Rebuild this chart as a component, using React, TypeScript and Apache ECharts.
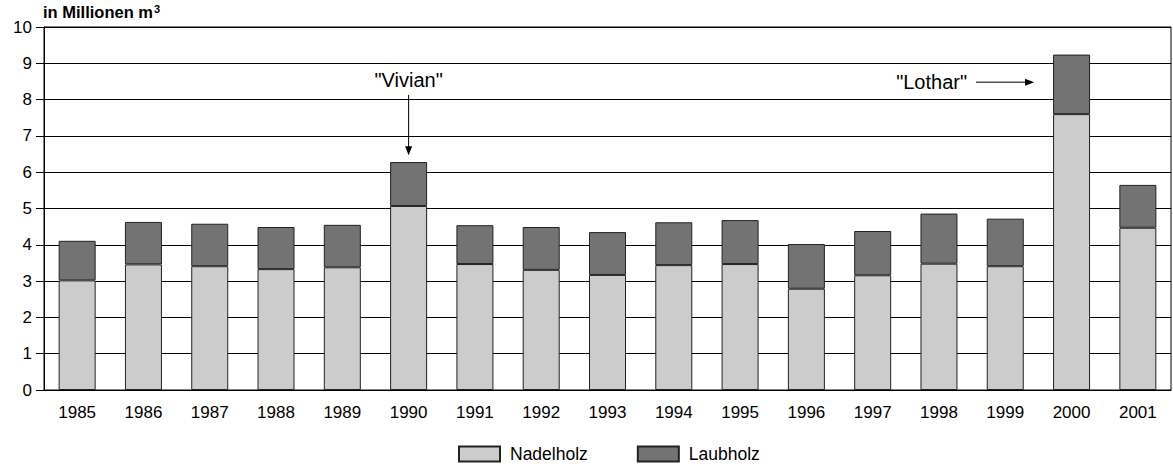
import React, { useEffect, useRef } from "react";
import * as echarts from "echarts";

const years = ["1985","1986","1987","1988","1989","1990","1991","1992","1993","1994","1995","1996","1997","1998","1999","2000","2001"];
const nadelholz = [3.02,3.46,3.41,3.33,3.38,5.07,3.47,3.31,3.17,3.44,3.47,2.79,3.16,3.48,3.41,7.60,4.47];
const laubholz = [1.09,1.17,1.17,1.16,1.17,1.21,1.07,1.18,1.18,1.18,1.21,1.23,1.22,1.38,1.31,1.64,1.18];
const yTicks = [0,1,2,3,4,5,6,7,8,9,10];

const FONT = "'Liberation Sans', Arial, sans-serif";

export default function App() {
  const ref = useRef<HTMLDivElement>(null);
  useEffect(() => {
    if (!ref.current) return;
    const chart = echarts.init(ref.current, null, { renderer: "svg" });
    const option: any = {
      animation: false,
      backgroundColor: "#fff",
      textStyle: { fontFamily: FONT },
      grid: { left: 44, right: 2, top: 27, bottom: 81, show: true, borderColor: "#000", borderWidth: 1 },
      title: {
        text: "{a|in Millionen m}{s|3}",
        left: 43, top: 3,
        padding: 0,
        textStyle: {
          rich: {
            a: { fontFamily: FONT, fontSize: 16.5, fontWeight: "bold", color: "#000" },
            s: { fontFamily: FONT, fontSize: 11, fontWeight: "bold", color: "#000", verticalAlign: "top", padding: [0, 0, 6, 1] },
          },
        },
      },
      legend: {
        bottom: 8,
        left: 458,
        padding: 0,
        icon: "rect",
        itemWidth: 41,
        itemHeight: 15,
        itemGap: 49,
        textStyle: { fontFamily: FONT, fontSize: 17.5, color: "#000", padding: [0, 0, 0, 5] },
        data: ["Nadelholz", "Laubholz"],
      },
      xAxis: {
        type: "category",
        data: years,
        axisLine: { lineStyle: { color: "#000", width: 1 } },
        axisTick: { show: false },
        axisLabel: { color: "#000", fontSize: 17, fontFamily: FONT, margin: 14 },
      },
      yAxis: {
        type: "value",
        min: yTicks[0],
        max: yTicks[yTicks.length - 1],
        interval: 1,
        axisLine: { show: true, lineStyle: { color: "#000", width: 1 } },
        axisTick: { show: true, length: 8, lineStyle: { color: "#000" } },
        splitLine: { lineStyle: { color: "#000", width: 1 } },
        axisLabel: { color: "#000", fontSize: 17, fontFamily: FONT, margin: 12 },
      },
      series: [
        {
          name: "Nadelholz",
          type: "bar",
          stack: "total",
          data: nadelholz,
          barWidth: 37,
          itemStyle: { color: "#cccccc", borderColor: "#222", borderWidth: 1 },
        },
        {
          name: "Laubholz",
          type: "bar",
          stack: "total",
          data: laubholz,
          barWidth: 37,
          itemStyle: { color: "#737373", borderColor: "#222", borderWidth: 1 },
        },
      ],
    };
    chart.setOption(option);

    const v = chart.convertToPixel({ gridIndex: 0 }, ["1990", 8.54]) as number[];
    const vStart = chart.convertToPixel({ gridIndex: 0 }, ["1990", 8.13]) as number[];
    const vEnd = chart.convertToPixel({ gridIndex: 0 }, ["1990", 6.47]) as number[];
    const l = chart.convertToPixel({ gridIndex: 0 }, ["2000", 8.48]) as number[];
    const barHalf = 18.5;
    const lEndX = l[0] - barHalf - 19;
    const lStartX = lEndX - 58;

    chart.setOption({
      graphic: [
        {
          type: "text",
          x: v[0], y: v[1],
          style: { text: '"Vivian"', fontFamily: FONT, fontSize: 20, fill: "#000", align: "center", verticalAlign: "middle" },
        },
        {
          type: "line",
          shape: { x1: vStart[0], y1: vStart[1], x2: vEnd[0], y2: vEnd[1] - 8 },
          style: { stroke: "#000", lineWidth: 1 },
        },
        {
          type: "polygon",
          shape: { points: [[vEnd[0] - 3.5, vEnd[1] - 9], [vEnd[0] + 3.5, vEnd[1] - 9], [vEnd[0], vEnd[1]]] },
          style: { fill: "#000" },
        },
        {
          type: "text",
          x: lStartX - 9, y: l[1],
          style: { text: '"Lothar"', fontFamily: FONT, fontSize: 20, fill: "#000", align: "right", verticalAlign: "middle" },
        },
        {
          type: "line",
          shape: { x1: lStartX, y1: l[1], x2: lEndX - 8, y2: l[1] },
          style: { stroke: "#000", lineWidth: 1 },
        },
        {
          type: "polygon",
          shape: { points: [[lEndX - 9, l[1] - 3.5], [lEndX - 9, l[1] + 3.5], [lEndX, l[1]]] },
          style: { fill: "#000" },
        },
      ],
    });

    return () => chart.dispose();
  }, []);
  return <div ref={ref} style={{ width: 1173, height: 471, position: "absolute", left: 0, top: 0 }} />;
}
